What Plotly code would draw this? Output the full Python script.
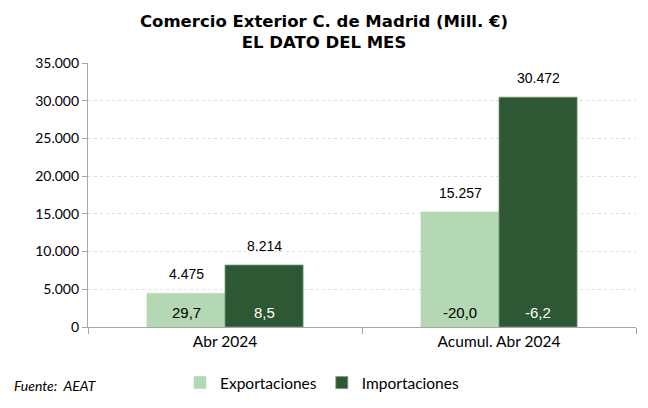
import plotly.graph_objects as go

categories = ["Abr 2024", "Acumul. Abr 2024"]
exportaciones = [4475, 15257]
importaciones = [8214, 30472]
var_export = [29.7, -20.0]
var_import = [8.5, -6.2]
tick_vals = [0, 5000, 10000, 15000, 20000, 25000, 30000, 35000]

light = "#B3D8B3"
dark = "#2E5733"

W, H = 640, 400  # page offset of 8px by body margin
L, R, T, B = 80, 12, 55, 81
PW = W - L - R
PH = H - T - B

fig = go.Figure()
fig.add_trace(go.Bar(
    x=categories, y=exportaciones, name="Exportaciones",
    marker=dict(color=light, line=dict(color=light, width=0.5)),
))
fig.add_trace(go.Bar(
    x=categories, y=importaciones, name="Importaciones",
    marker=dict(color=dark, line=dict(color="#7a9a7a", width=0.8)),
))

def fmt1(v):
    return f"{v:.1f}".replace(".", ",")

def fmt0(v):
    return f"{v:,.0f}".replace(",", ".")

annotations = []
for c, e, i, ve, vi in zip(categories, exportaciones, importaciones, var_export, var_import):
    for val, sh in ((e, -39), (i, 39)):
        annotations.append(dict(x=c, y=val, xref="x", yref="y", text=fmt0(val), showarrow=False,
                                xshift=sh, yanchor="bottom", yshift=9,
                                font=dict(family="Liberation Sans", size=14, color="#000000")))
    annotations.append(dict(x=c, y=0, xref="x", yref="y", text=fmt1(ve), showarrow=False,
                            xshift=-39, yanchor="bottom", yshift=4,
                            font=dict(family="Liberation Sans", size=15, color="#000000")))
    annotations.append(dict(x=c, y=0, xref="x", yref="y", text=fmt1(vi), showarrow=False,
                            xshift=39, yanchor="bottom", yshift=4,
                            font=dict(family="Liberation Sans", size=15, color="#FFFFFF")))
annotations.append(dict(x=(4 - L) / PW, y=(319 - 377) / PH, xref="x domain", yref="y domain",
                        text="<i>Fuente:  AEAT</i>",
                        showarrow=False, xanchor="left", yanchor="middle",
                        font=dict(family="Lato", size=14, color="#000000")))

fig.update_layout(
    width=W, height=H,
    margin=dict(l=L, r=R, t=T, b=B, autoexpand=False),
    paper_bgcolor="white", plot_bgcolor="white",
    separators=",.",
    barmode="group", bargap=0.43, bargroupgap=0,
    title=dict(text="Comercio Exterior C. de Madrid (Mill. €)<br>EL DATO DEL MES",
               x=316 / W, xanchor="center", y=1 - 19 / H, yanchor="middle",
               font=dict(family="DejaVu Sans", size=16.5, color="#000000", weight="bold")),
    legend=dict(orientation="h", x=(314 - L) / PW, xanchor="center",
                y=(319 - 375) / PH, yanchor="middle",
                font=dict(family="Lato", size=15.5, color="#000000"),
                traceorder="normal"),
    annotations=annotations,
    showlegend=True,
)
fig.update_xaxes(
    showline=True, linecolor="#A6A6A6", linewidth=1.3,
    ticks="outside", tickson="boundaries", ticklen=6, tickcolor="#A6A6A6",
    tickfont=dict(family="Lato", size=15.5, color="#000000"),
    showgrid=False,
)
fig.update_yaxes(
    range=[0, 35000], tickvals=tick_vals, tickformat=",.0f",
    showline=True, linecolor="#A6A6A6", linewidth=1.3,
    ticks="outside", ticklen=5, tickcolor="#A6A6A6",
    tickfont=dict(family="Lato", size=14, color="#000000"),
    showgrid=True, gridcolor="#E0E0E0", griddash="dot", gridwidth=1,
    zeroline=False,
)

fig.write_html("out.html")
